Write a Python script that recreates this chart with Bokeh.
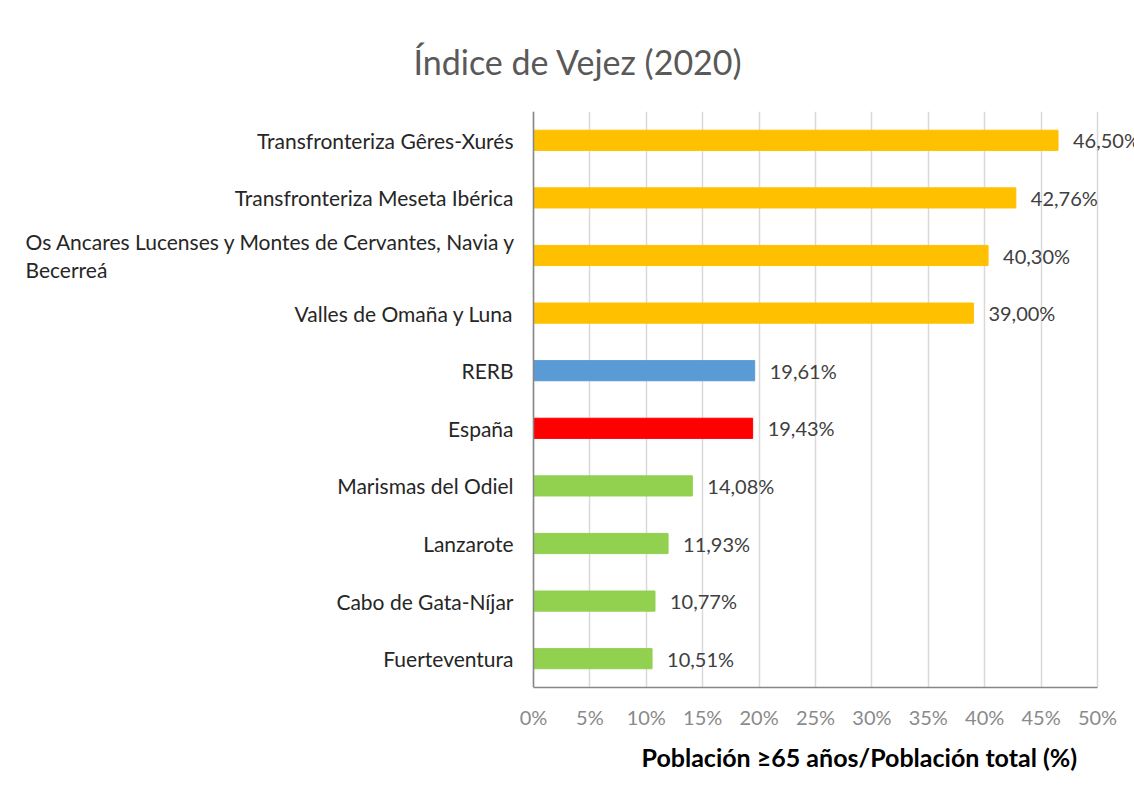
from bokeh.plotting import figure
from bokeh.models import ColumnDataSource, FactorRange, LabelSet, Title, PrintfTickFormatter, FixedTicker, Range1d, Span
from bokeh.core.properties import value
from bokeh.embed import file_html
from bokeh.resources import INLINE

categories = [
    "Transfronteriza Gêres-Xurés",
    "Transfronteriza Meseta Ibérica",
    "Os Ancares Lucenses y Montes de Cervantes, Navia y\nBecerreá",
    "Valles de Omaña y Luna",
    "RERB",
    "España",
    "Marismas del Odiel",
    "Lanzarote",
    "Cabo de Gata-Níjar",
    "Fuerteventura",
]
values = [46.50, 42.76, 40.30, 39.00, 19.61, 19.43, 14.08, 11.93, 10.77, 10.51]
colors = ["#FFC000", "#FFC000", "#FFC000", "#FFC000", "#5B9BD5", "#FF0000",
          "#92D050", "#92D050", "#92D050", "#92D050"]
x_ticks = [0, 5, 10, 15, 20, 25, 30, 35, 40, 45, 50]

FONT = "Lato"
W, H = 1134, 796
X0_PX = 533          # pixel position of the 0 % baseline
PX_PER_UNIT = 11.28  # pixels per percentage point

value_text = [f"{v:.2f}%".replace(".", ",") for v in values]
single = [c if "\n" not in c else "" for c in categories]
multi = [c if "\n" in c else "" for c in categories]

src = ColumnDataSource(dict(cat=categories, val=values, color=colors, vtxt=value_text,
                            single=single, multi=multi, zero=[0] * len(values)))

p = figure(width=W, height=H, output_backend="svg", toolbar_location=None,
           y_axis_location=None,
           y_range=FactorRange(*reversed(categories)),
           x_range=Range1d(-X0_PX / PX_PER_UNIT, (W - X0_PX) / PX_PER_UNIT),
           min_border_left=0, min_border_right=0, min_border_top=111, min_border_bottom=109)

p.xgrid.grid_line_color = "#d9d9d9"
p.xgrid.grid_line_width = 1.5
p.ygrid.grid_line_color = None
p.outline_line_color = None

p.hbar(y="cat", right="val", height=0.35, color="color", source=src)

p.add_layout(Span(location=0, dimension="height", line_color="#868686", line_width=1.5))

p.add_layout(LabelSet(x="val", y="cat", text="vtxt", source=src, x_offset=15,
                      text_baseline="middle", text_align="left", text_font=value(FONT),
                      text_font_size="20px", text_color="#404040"))
p.add_layout(LabelSet(x="zero", y="cat", text="single", source=src, x_offset=-20,
                      text_baseline="middle", text_align="right", text_font=value(FONT),
                      text_font_size="21px", text_color="#262626"))
p.add_layout(LabelSet(x="zero", y="cat", text="multi", source=src, x_offset=-508,
                      text_baseline="middle", text_align="left", text_font=value(FONT),
                      text_font_size="21px", text_color="#262626", text_line_height=1.1))

p.xaxis.ticker = FixedTicker(ticks=x_ticks)
p.xaxis.bounds = (x_ticks[0], x_ticks[-1])
p.xaxis.formatter = PrintfTickFormatter(format="%d%%")
p.xaxis.major_tick_line_color = None
p.xaxis.minor_tick_line_color = None
p.xaxis.axis_line_color = "#868686"
p.xaxis.axis_line_width = 1.5
p.xaxis.major_label_text_font = FONT
p.xaxis.major_label_text_font_size = "20px"
p.xaxis.major_label_text_color = "#8a8a8a"
p.xaxis.major_label_standoff = 11

p.title = Title(text="Índice de Vejez (2020)", align="left", offset=413,
                text_font=FONT, text_font_size="34px", text_font_style="normal",
                text_color="#595959", standoff=60)
p.add_layout(Title(text="Población ≥65 años/Población total (%)", align="left", offset=641,
                   text_font=FONT, text_font_size="25px", text_font_style="bold",
                   text_color="#000000", standoff=17), "below")

open("out.html", "w").write(file_html(p, INLINE))
